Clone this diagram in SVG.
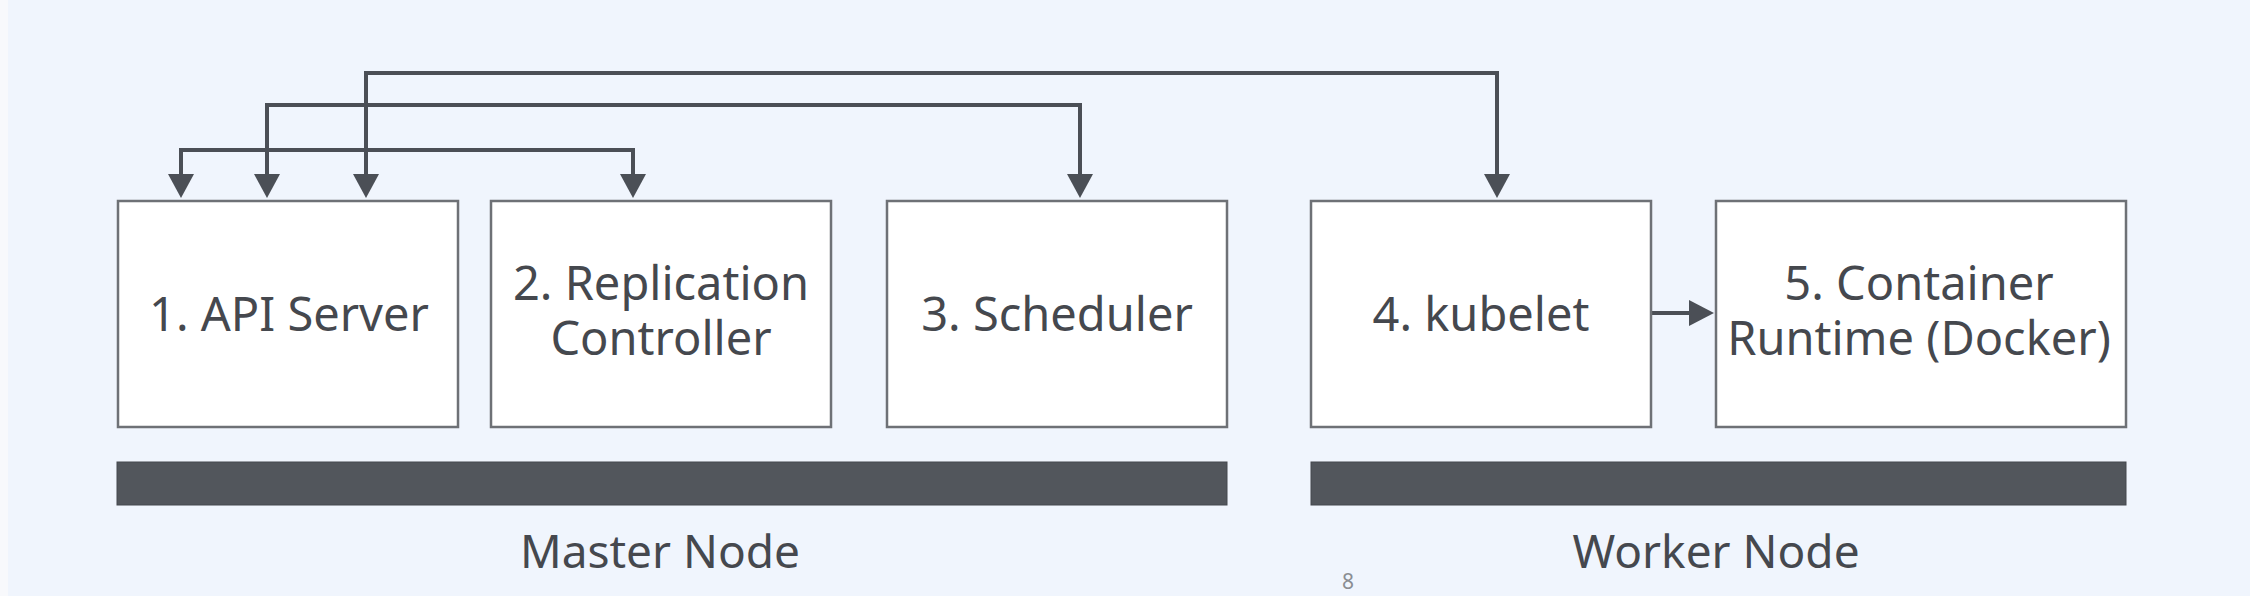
<svg xmlns="http://www.w3.org/2000/svg" width="2250" height="596" viewBox="0 0 2250 596">
<defs>
<style>
.box{fill:#ffffff;stroke:#6e7176;stroke-width:2.5}
.lbl{font-family:"Noto Sans","Liberation Sans",sans-serif;font-size:47px;fill:#45484e;text-anchor:middle}
.cap{font-family:"Noto Sans","Liberation Sans",sans-serif;font-size:46px;fill:#45484e;text-anchor:middle}
.bar{fill:#52565c;stroke:#45484e;stroke-width:1}
.conn{fill:none;stroke:#4b4f56;stroke-width:4}
.head{fill:#4b4f56}
</style>
</defs>
<rect x="0" y="0" width="2250" height="596" fill="#f0f5fd"/>
<rect x="0" y="0" width="8" height="596" fill="#f8f9fc"/>
<g id="connectors">
<path class="conn" d="M366,176 V73 H1497 V176"/>
<path class="conn" d="M267,176 V105 H1080 V176"/>
<path class="conn" d="M181,176 V150 H633 V176"/>
<path class="conn" d="M1651,313 H1690"/>
<polygon class="head" points="168,174 194,174 181,198"/>
<polygon class="head" points="254,174 280,174 267,198"/>
<polygon class="head" points="353,174 379,174 366,198"/>
<polygon class="head" points="620,174 646,174 633,198"/>
<polygon class="head" points="1067,174 1093,174 1080,198"/>
<polygon class="head" points="1484,174 1510,174 1497,198"/>
<polygon class="head" points="1689,300 1689,326 1714,313"/>
</g>
<g id="node1"><rect class="box" x="118" y="201" width="340" height="226"/><text class="lbl" x="289" y="331">1. API Server</text></g>
<g id="node2"><rect class="box" x="491" y="201" width="340" height="226"/><text class="lbl" x="661" y="300">2. Replication</text><text class="lbl" x="661" y="355">Controller</text></g>
<g id="node3"><rect class="box" x="887" y="201" width="340" height="226"/><text class="lbl" x="1057" y="331">3. Scheduler</text></g>
<g id="node4"><rect class="box" x="1311" y="201" width="340" height="226"/><text class="lbl" x="1481" y="331">4. kubelet</text></g>
<g id="node5"><rect class="box" x="1716" y="201" width="410" height="226"/><text class="lbl" x="1919" y="300">5. Container</text><text class="lbl" x="1919" y="355">Runtime (Docker)</text></g>
<g id="master"><rect class="bar" x="117" y="462" width="1110" height="43"/><text class="cap" x="660" y="568">Master Node</text></g>
<g id="worker"><rect class="bar" x="1311" y="462" width="815" height="43"/><text class="cap" x="1716" y="568">Worker Node</text></g>
<text x="1348" y="589" font-family="Noto Sans, Liberation Sans, sans-serif" font-size="21" fill="#8a8d92" text-anchor="middle">8</text>
</svg>
